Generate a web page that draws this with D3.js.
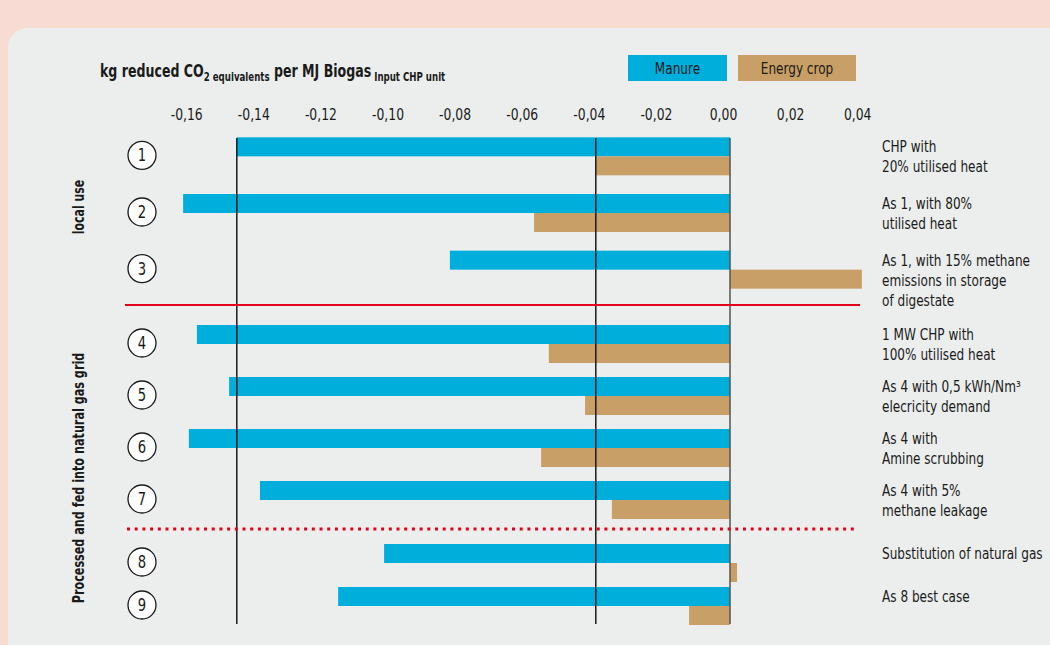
<!DOCTYPE html>
<html>
<head>
<meta charset="utf-8">
<script src="https://cdn.jsdelivr.net/npm/d3@7"></script>
<style>
  html, body { margin: 0; padding: 0; background: #f8dcd3; }
  svg { display: block; }
  text { font-family: "DejaVu Sans Condensed", "Liberation Sans Narrow", sans-serif; fill: #1a1a1a; }
</style>
</head>
<body>
<script>
// ---------- data ----------
const scenarios = ["1", "2", "3", "4", "5", "6", "7", "8", "9"];
const groups = ["local", "local", "local", "grid", "grid", "grid", "grid", "subst", "subst"];
const groupOrder = ["local", "grid", "subst"];
const manure = [-0.147, -0.163, -0.0835, -0.1589, -0.1493, -0.1613, -0.1401, -0.1031, -0.1168];
const energyCrop = [-0.040, -0.0584, 0.0393, -0.054, -0.0432, -0.0563, -0.0352, 0.0021, -0.0122];
const descriptions = [
  ["CHP with", "20% utilised heat"],
  ["As 1, with 80%", "utilised heat"],
  ["As 1, with 15% methane", "emissions in storage", "of digestate"],
  ["1 MW CHP with", "100% utilised heat"],
  ["As 4 with 0,5 kWh/Nm³", "elecricity demand"],
  ["As 4 with", "Amine scrubbing"],
  ["As 4 with 5%", "methane leakage"],
  ["Substitution of natural gas"],
  ["As 8 best case"]
];
const tickValues = [-0.16, -0.14, -0.12, -0.10, -0.08, -0.06, -0.04, -0.02, 0.00, 0.02, 0.04];
const seriesNames = ["Manure", "Energy crop"];
const seriesColors = ["#00aedb", "#c89f66"];
const sideLabels = ["local use", "Processed and fed into natural gas grid"];

// ---------- layout ----------
const W = 1050, H = 645;
const svg = d3.select("body").append("svg").attr("width", W).attr("height", H);

// panel
svg.append("rect").attr("x", 0).attr("y", 0).attr("width", W).attr("height", H).attr("fill", "#f8dcd3");
svg.append("rect").attr("x", 8).attr("y", 28).attr("width", W + 40).attr("height", H + 40)
  .attr("rx", 20).attr("fill", "#eceeed");

const x = d3.scaleLinear().domain([-0.16, 0.04]).range([193.2, 864.2]);

// y: band scale per group
const groupRanges = { local: [128, 298], grid: [318, 526], subst: [541.5, 627.5] };
const yScales = {};
groupOrder.forEach(g => {
  const dom = scenarios.filter((s, i) => groups[i] === g);
  yScales[g] = d3.scaleBand().domain(dom).range(groupRanges[g]).paddingInner(0.33).paddingOuter(0.165);
});
const rowCenter = i => { const sc = yScales[groups[i]]; return sc(scenarios[i]) + sc.bandwidth() / 2; };
const barH = 19;

// condensed text helper
function ctext(px, py, sx, rot) {
  return svg.append("text")
    .attr("transform", `translate(${px},${py})` + (rot ? ` rotate(${rot})` : "") + ` scale(${sx},1)`);
}

// title
const title = ctext(100, 77, 0.8).style("font-weight", "bold").style("font-size", "17.5px");
title.append("tspan").text("kg reduced CO");
title.append("tspan").attr("dy", 4).style("font-size", "12px").text("2 equivalents");
title.append("tspan").attr("dy", -4).text(" per MJ Biogas");
title.append("tspan").attr("dy", 4).style("font-size", "12px").text(" Input CHP unit");

// legend
const legX = [628, 738], legW = [99, 118];
seriesNames.forEach((n, i) => {
  svg.append("rect").attr("x", legX[i]).attr("y", 55).attr("width", legW[i]).attr("height", 26).attr("fill", seriesColors[i]);
  ctext(legX[i] + legW[i] / 2, 74, 0.84).attr("text-anchor", "middle")
    .style("font-size", "16px").text(n);
});

// axis tick labels (top)
const axis = d3.axisTop(x).tickValues(tickValues).tickSize(0).tickPadding(0)
  .tickFormat(d => d3.format(".2f")(d).replace("−", "-").replace(".", ","));
const axG = svg.append("g").attr("transform", "translate(-7,120)").call(axis);
axG.select(".domain").remove();
axG.selectAll("text").attr("dy", 0).attr("transform", "scale(0.86,1)")
  .style("font-size", "16px").attr("fill", "#1a1a1a")
  .style("font-family", "'DejaVu Sans Condensed',sans-serif");

// bars
const yTop = 138, yBot = 624;
const barsG = svg.append("g");
scenarios.forEach((s, i) => {
  const c = rowCenter(i);
  [manure[i], energyCrop[i]].forEach((v, k) => {
    barsG.append("rect")
      .attr("x", Math.min(x(0), x(v)))
      .attr("y", k === 0 ? c - barH : c)
      .attr("width", Math.abs(x(v) - x(0)))
      .attr("height", barH)
      .attr("fill", seriesColors[k]);
  });
});

// reference lines at scenario 1 values + zero line
[manure[0], energyCrop[0]].forEach(v => {
  svg.append("line").attr("x1", x(v)).attr("x2", x(v)).attr("y1", yTop).attr("y2", yBot)
    .attr("stroke", "#1a1a1a").attr("stroke-width", 1.5);
});
svg.append("line").attr("x1", x(0)).attr("x2", x(0)).attr("y1", yTop).attr("y2", yBot)
  .attr("stroke", "#555").attr("stroke-width", 1.5);

// separators
svg.append("line").attr("x1", 125).attr("x2", 860).attr("y1", 305).attr("y2", 305)
  .attr("stroke", "#e2001a").attr("stroke-width", 2);
svg.append("line").attr("x1", 127).attr("x2", 857).attr("y1", 529).attr("y2", 529)
  .attr("stroke", "#e2001a").attr("stroke-width", 3).attr("stroke-dasharray", "3,4.7");

// circles with numbers
scenarios.forEach((s, i) => {
  const c = rowCenter(i);
  svg.append("circle").attr("cx", 142).attr("cy", c - 1).attr("r", 14)
    .attr("fill", "#fff").attr("stroke", "#1a1a1a").attr("stroke-width", 1.3);
  ctext(142, c + 5, 0.86).attr("text-anchor", "middle")
    .style("font-size", "17px").text(s);
});

// descriptions
descriptions.forEach((lines, i) => {
  const c = rowCenter(i);
  const t = ctext(882, c - 4, 0.84).style("font-size", "16px");
  lines.forEach((l, j) => t.append("tspan").attr("x", 0).attr("dy", j === 0 ? 0 : 20).text(l));
});

// side labels
ctext(84, 207, 0.76, -90).attr("text-anchor", "middle")
  .style("font-weight", "bold").style("font-size", "16px").text(sideLabels[0]);
ctext(84, 478, 0.78, -90).attr("text-anchor", "middle")
  .style("font-weight", "bold").style("font-size", "16px").text(sideLabels[1]);
</script>
</body>
</html>
